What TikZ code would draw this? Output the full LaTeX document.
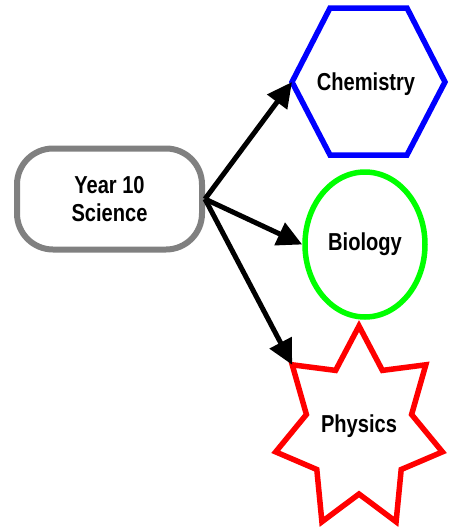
\documentclass[tikz,border=0pt]{standalone}
\usepackage{fontspec}
\setmainfont{Liberation Sans}[FakeStretch=0.82]
\usetikzlibrary{arrows.meta,shapes.geometric}
\definecolor{boxgray}{RGB}{128,128,128}
\definecolor{hexblue}{RGB}{0,0,255}
\definecolor{ellgreen}{RGB}{0,255,0}
\definecolor{starred}{RGB}{255,0,0}
\begin{document}
\begin{tikzpicture}[x=1pt,y=-1pt,
  txt/.style={font=\fontsize{24.5}{28}\selectfont\bfseries, inner sep=0pt},
  lbl/.style={txt, anchor=base},
  outline/.style={line width=5.5pt, line join=miter},
  conn/.style={line width=5pt, -{Triangle[length=25pt,width=24pt]}}]
\useasboundingbox (0,0) rectangle (452,528);

% Year 10 Science
\node[txt, outline, line width=6pt, draw=boxgray, rounded corners=36pt, minimum width=185pt,
      minimum height=101pt, align=center] (sci) at (109.5,199) {Year 10\\Science};

% Chemistry hexagon
\coordinate (chemL) at (292,82);
\coordinate (chemTL) at (330,8);
\coordinate (chemTR) at (407,8);
\coordinate (chemR) at (445,82);
\coordinate (chemBR) at (407,155);
\coordinate (chemBL) at (330,155);
\draw[outline, draw=hexblue] (chemL) -- (chemTL) -- (chemTR) -- (chemR) -- (chemBR) -- (chemBL) -- cycle;
\node[lbl] (chem) at (366,90) {Chemistry};

% Biology ellipse
\node[ellipse, outline, draw=ellgreen, minimum width=120pt, minimum height=145pt, inner sep=0pt] (bioshape) at (365,244.5) {};
\node[lbl] (bio) at (365,250.5) {Biology};

% Physics star
\coordinate (phyUL) at (292.2,364.8);
\draw[outline, draw=starred] (359,326) -- (335.6,370.4) -- (phyUL) -- (306.4,414.5)
  -- (275.7,451.9) -- (316.8,469.5) -- (321.9,521.8) -- (359,494) -- (396.1,521.8)
  -- (401.2,469.5) -- (442.4,451.9) -- (411.6,414.5) -- (425.8,364.8) -- (382.4,370.4) -- cycle;
\node[lbl] (phy) at (359,432.5) {Physics};

% connectors
\draw[conn] (sci.east) -- (chemL);
\draw[conn] (sci.east) -- (bioshape.west);
\draw[conn] (sci.east) -- (phyUL);
\end{tikzpicture}
\end{document}
